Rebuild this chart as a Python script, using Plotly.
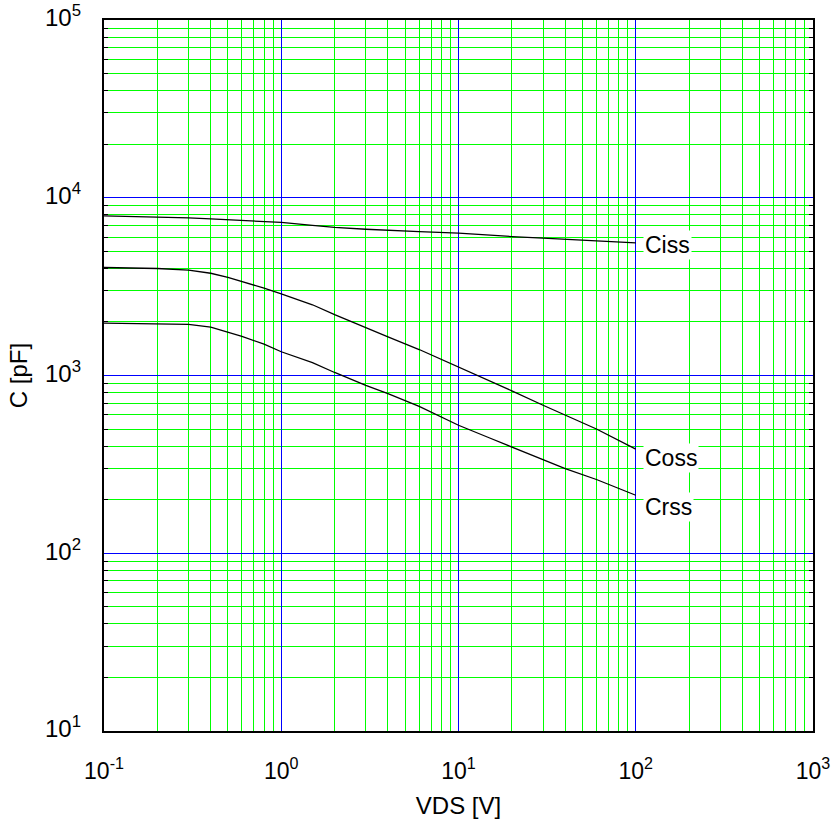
import math
import plotly.graph_objects as go

# Data
vds = [0.1, 0.2, 0.3, 0.4, 0.5, 0.6, 0.8, 1.0, 1.5, 2.0, 3.0, 4.0, 6.0, 10.0, 15.0, 20.0, 30.0, 40.0, 60.0, 100.0]
ciss = [7900, 7820, 7700, 7600, 7520, 7440, 7350, 7260, 7000, 6820, 6650, 6550, 6450, 6330, 6150, 6050, 5930, 5830, 5720, 5580]
coss = [4050, 4000, 3920, 3760, 3560, 3380, 3100, 2880, 2500, 2200, 1870, 1650, 1400, 1120, 930, 820, 680, 600, 500, 385]
crss = [1970, 1960, 1940, 1870, 1760, 1660, 1500, 1360, 1180, 1040, 880, 790, 670, 525, 445, 396, 335, 299, 260, 212]

series_names = ["Ciss", "Coss", "Crss"]
series_values = [ciss, coss, crss]
label_yshift = [-2, -9, -12]

x_major = [0.1, 1, 10, 100, 1000]
x_major_text = ["10<sup>-1</sup>", "10<sup>0</sup>", "10<sup>1</sup>", "10<sup>2</sup>", "10<sup>3</sup>"]
y_major = [10, 100, 1000, 10000, 100000]
y_major_text = ["10<sup>1</sup>", "10<sup>2</sup>", "10<sup>3</sup>", "10<sup>4</sup>", "10<sup>5</sup>"]

x_minor = [m * d for d in [0.1, 1, 10, 100] for m in range(2, 10)]
y_minor = [m * d for d in [10, 100, 1000, 10000] for m in range(2, 10)]

FONT = "Liberation Sans, Arial, sans-serif"

fig = go.Figure()
for name, vals, ys in zip(series_names, series_values, label_yshift):
    fig.add_trace(go.Scatter(x=vds, y=vals, mode="lines", name=name, xaxis="x2", yaxis="y2",
                             line=dict(color="black", width=1.3), showlegend=False))
    fig.add_annotation(x=math.log10(vds[-1]), y=math.log10(vals[-1]), xref="x2", yref="y2",
                       text=name, showarrow=False, xanchor="left", yanchor="middle",
                       xshift=7, yshift=ys, bgcolor="white", borderpad=1,
                       font=dict(family=FONT, size=23, color="black"))

# invisible helper trace so base (minor-grid) axes are drawn
fig.add_trace(go.Scatter(x=[0.1], y=[10], mode="markers", marker=dict(opacity=0),
                         hoverinfo="skip", showlegend=False))

fig.update_layout(
    width=833, height=826, margin=dict(l=104, r=20, t=20, b=95, autoexpand=False),
    paper_bgcolor="white", plot_bgcolor="white",
    xaxis=dict(type="log", range=[-1, 3], tickvals=x_minor, showticklabels=False, ticks="",
               showgrid=True, gridcolor="#00ff00", gridwidth=1,
               showline=True, linecolor="black", linewidth=1.5, mirror=True, zeroline=False),
    yaxis=dict(type="log", range=[1, 5], tickvals=y_minor, showticklabels=False,
               ticks="inside", ticklen=4, tickcolor="black", tickwidth=1,
               showgrid=True, gridcolor="#00ff00", gridwidth=1,
               showline=True, linecolor="black", linewidth=1.5, mirror="ticks", zeroline=False),
    xaxis2=dict(type="log", range=[-1, 3], overlaying="x", anchor="y2", side="bottom",
                tickvals=x_major, ticktext=x_major_text, ticks="",
                showgrid=True, gridcolor="#0000ff", gridwidth=1,
                showline=False, zeroline=False, ticklabelstandoff=24, ticklabeloverflow="allow",
                tickfont=dict(family=FONT, size=23, color="black"),
                title=dict(text="VDS [V]", font=dict(family=FONT, size=24, color="black"), standoff=14)),
    yaxis2=dict(type="log", range=[1, 5], overlaying="y", anchor="x2", side="left",
                tickvals=y_major, ticktext=y_major_text, ticks="",
                showgrid=True, gridcolor="#0000ff", gridwidth=1,
                showline=False, zeroline=False, ticklabelstandoff=22, ticklabelshift=-2,
                ticklabeloverflow="allow",
                tickfont=dict(family=FONT, size=24, color="black"),
                title=dict(text="C [pF]", font=dict(family=FONT, size=24, color="black"), standoff=10)),
)

fig.write_html("out.html")
